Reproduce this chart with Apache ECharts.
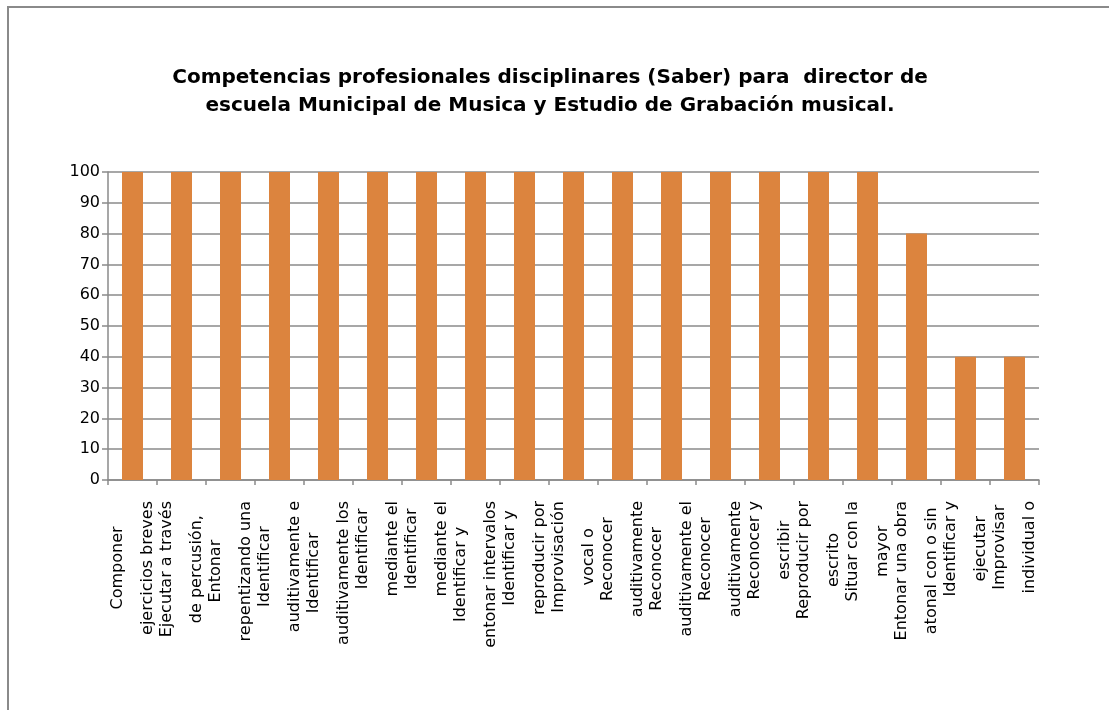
<!DOCTYPE html>
<html>
<head>
<meta charset="utf-8">
<script src="https://cdn.jsdelivr.net/npm/echarts@6/dist/echarts.min.js"></script>
<style>
    html, body { margin: 0; padding: 0; background: #fff; }
    #main { width: 1109px; height: 710px; }
</style>
</head>
<body>
<div id="main"></div>
<script>
// datos del grafico
var titulo = 'Competencias profesionales disciplinares (Saber) para  director de\nescuela Municipal de Musica y Estudio de Grabación musical.';
var categorias = [
    'Componer\nejercicios breves',
    'Ejecutar a través\nde percusión,',
    'Entonar\nrepentizando una',
    'Identificar\nauditivamente e',
    'Identificar\nauditivamente los',
    'Identificar\nmediante el',
    'Identificar\nmediante el',
    'Identificar y\nentonar intervalos',
    'Identificar y\nreproducir por',
    'Improvisación\nvocal o',
    'Reconocer\nauditivamente',
    'Reconocer\nauditivamente el',
    'Reconocer\nauditivamente',
    'Reconocer y\nescribir',
    'Reproducir por\nescrito',
    'Situar con la\nmayor',
    'Entonar una obra\natonal con o sin',
    'Identificar y\nejecutar',
    'Improvisar\nindividual o'
];
var valores = [100, 100, 100, 100, 100, 100, 100, 100, 100, 100, 100, 100, 100, 100, 100, 100, 80, 40, 40];
var ticksY = [0, 10, 20, 30, 40, 50, 60, 70, 80, 90, 100];

var myChart = echarts.init(document.getElementById('main'));
var gris = '#8a8a8a';
var option = {
    backgroundColor: '#fff',
    animation: false,
    title: {
        text: titulo,
        left: 545,
        textAlign: 'center',
        top: 59,
        textStyle: {
            fontFamily: 'DejaVu Sans',
            fontSize: 20,
            fontWeight: 'bold',
            color: '#000',
            lineHeight: 28
        }
    },
    graphic: [{
        type: 'rect',
        shape: { x: 8, y: 7, width: 1200, height: 800 },
        style: { fill: 'none', stroke: gris, lineWidth: 2 },
        silent: true
    }],
    grid: { left: 108, right: 70, top: 172, bottom: 230 },
    xAxis: {
        type: 'category',
        data: categorias,
        axisLine: { lineStyle: { color: gris, width: 1.5 } },
        axisTick: { show: true, length: 5, alignWithLabel: false, lineStyle: { color: gris, width: 1.5 } },
        axisLabel: {
            interval: 0,
            rotate: 90,
            margin: 21,
            formatter: function (v) {
                // cada linea centrada dentro del bloque
                return v.split('\n').map(function (s) { return '{a|' + s + '}'; }).join('\n');
            },
            rich: {
                a: {
                    fontFamily: 'DejaVu Sans',
                    fontSize: 16,
                    color: '#000',
                    lineHeight: 30,
                    align: 'center'
                }
            }
        }
    },
    yAxis: {
        type: 'value',
        min: ticksY[0],
        max: ticksY[ticksY.length - 1],
        interval: 10,
        axisLine: { show: true, lineStyle: { color: gris, width: 1.5 } },
        axisTick: { show: true, length: 6, lineStyle: { color: gris, width: 1.5 } },
        axisLabel: {
            margin: 8,
            fontFamily: 'DejaVu Sans',
            fontSize: 16,
            color: '#000'
        },
        splitLine: { show: true, lineStyle: { color: gris, width: 1.5 } }
    },
    series: [{
        type: 'bar',
        data: valores,
        barWidth: 21,
        itemStyle: { color: '#dc843e' }
    }]
};
myChart.setOption(option);
</script>
</body>
</html>
